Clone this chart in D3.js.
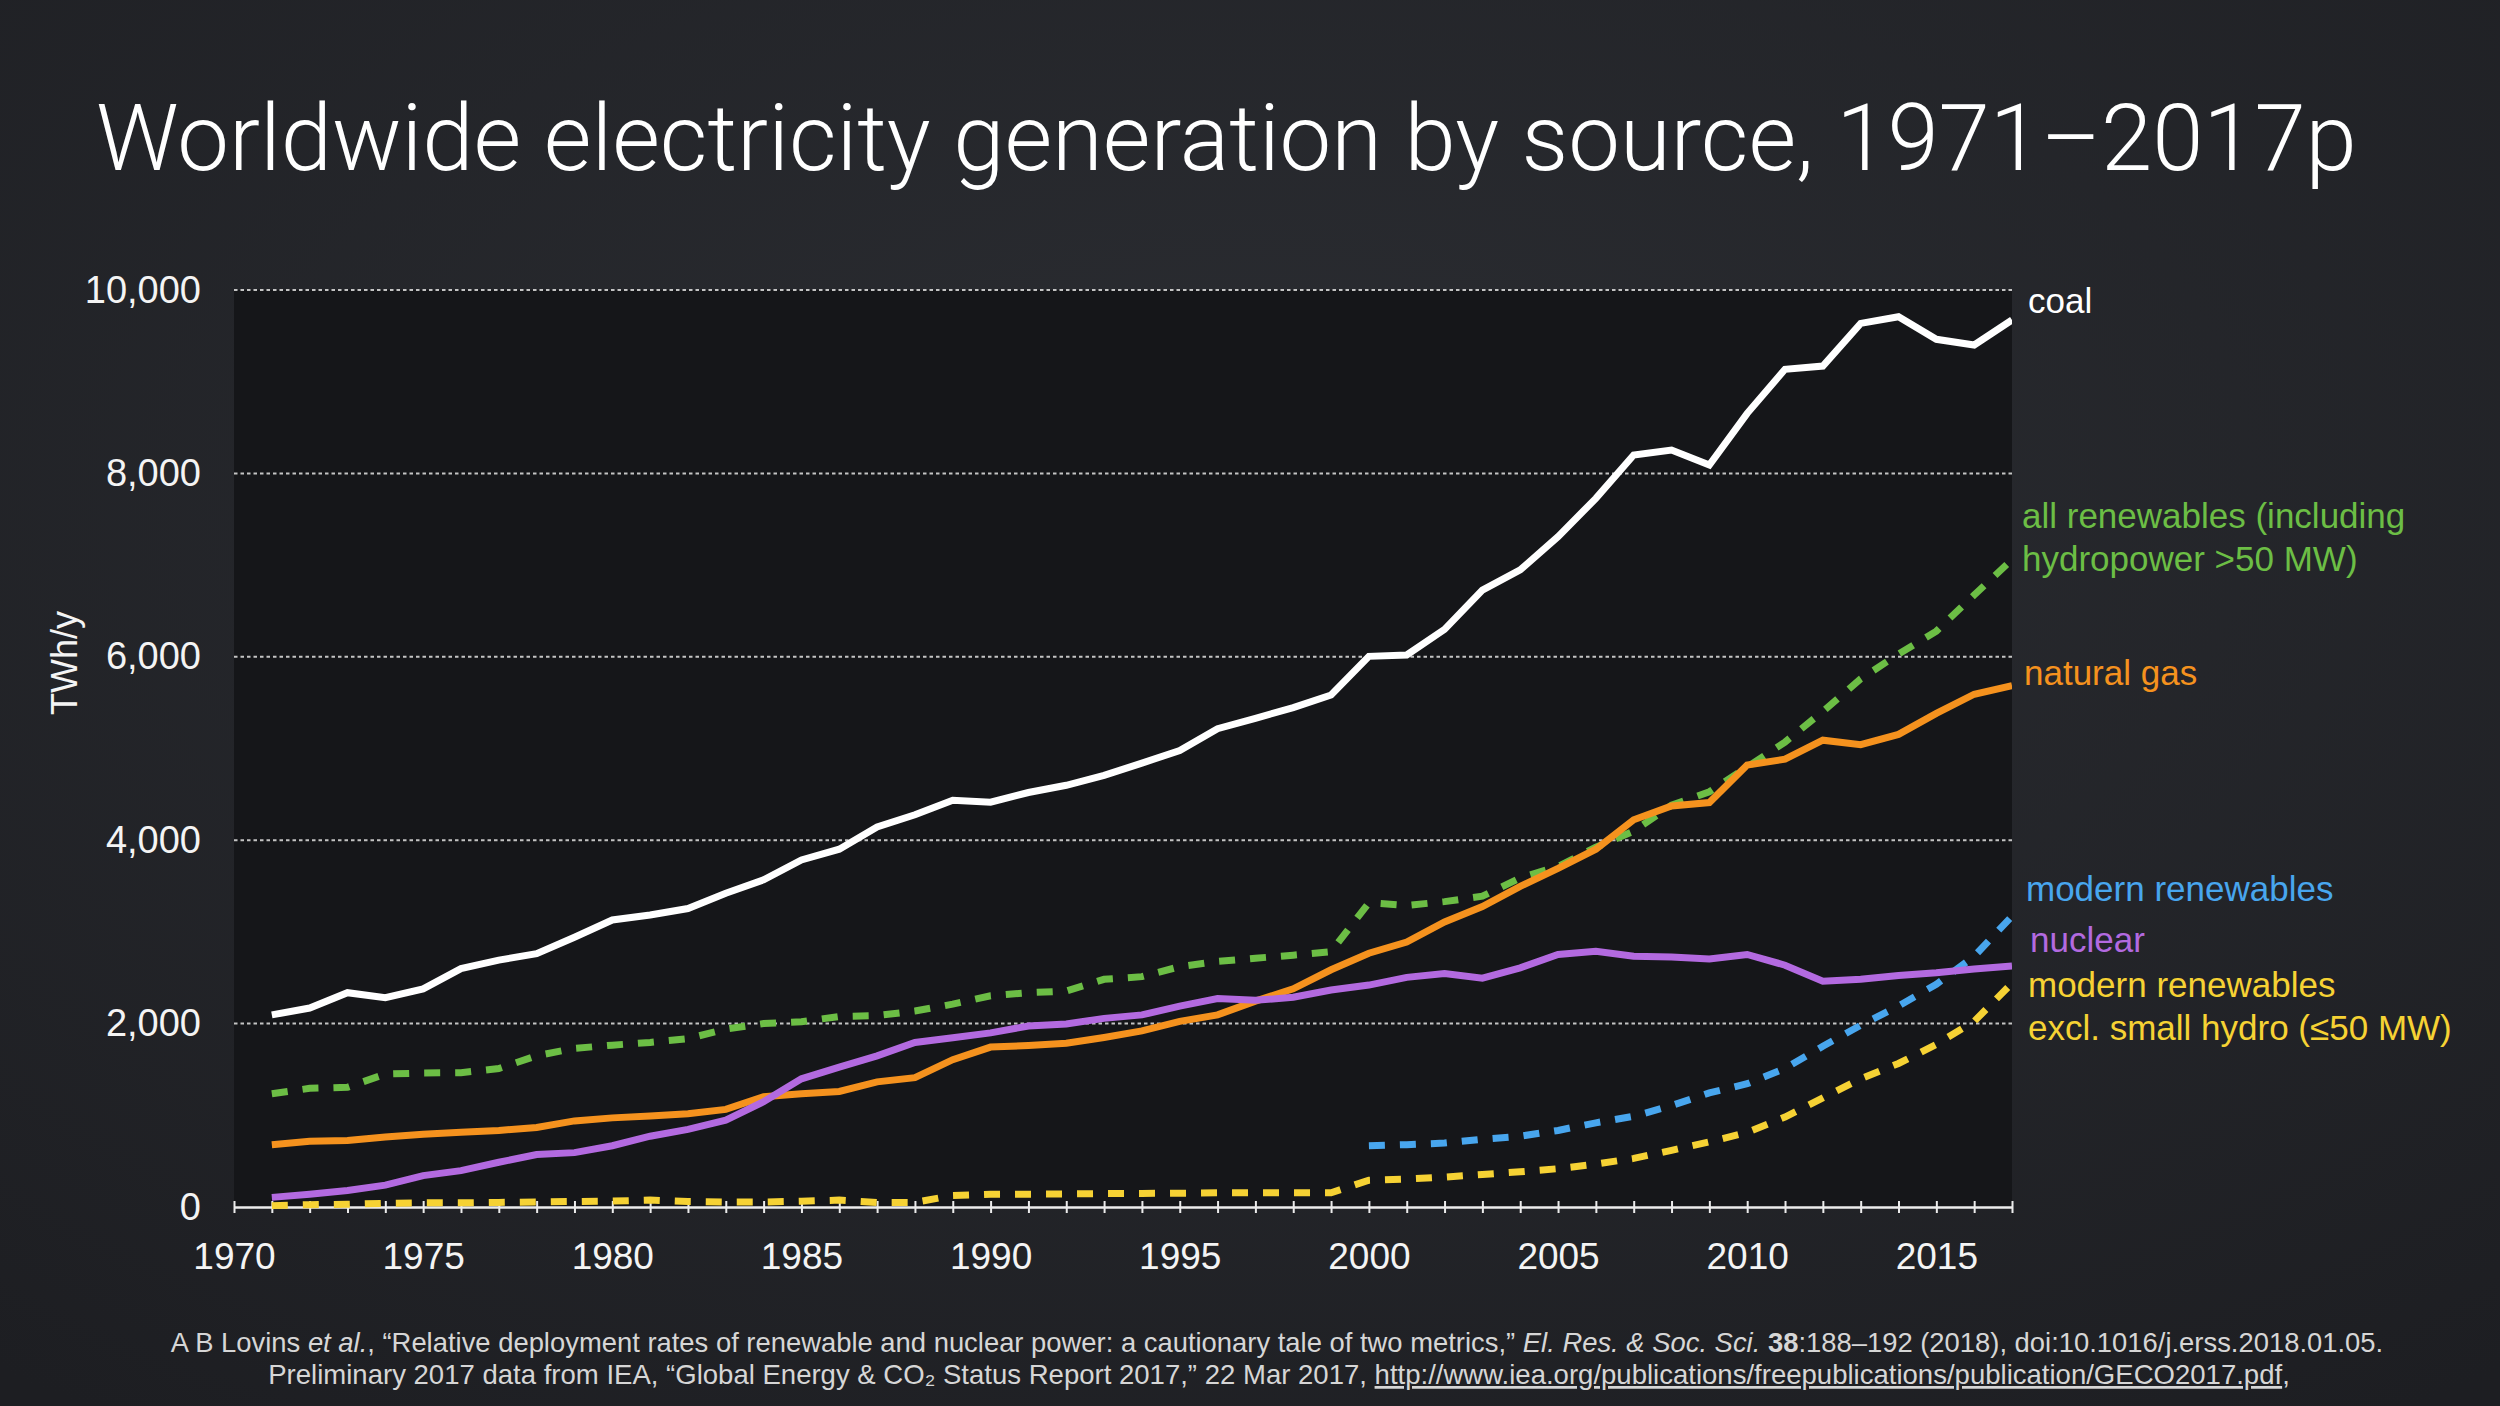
<!DOCTYPE html>
<html>
<head>
<meta charset="utf-8">
<script src="https://cdn.jsdelivr.net/npm/d3@7"></script>
<style>
  html, body { margin: 0; padding: 0; background: #232529; }
  svg { display: block; }
  text { font-family: "Liberation Sans", Arial, Helvetica, sans-serif; }
</style>
</head>
<body>
<div id="chart"></div>
<script>
// Data (TWh/y)
var years = [1971, 1972, 1973, 1974, 1975, 1976, 1977, 1978, 1979, 1980,
    1981, 1982, 1983, 1984, 1985, 1986, 1987, 1988, 1989, 1990,
    1991, 1992, 1993, 1994, 1995, 1996, 1997, 1998, 1999, 2000,
    2001, 2002, 2003, 2004, 2005, 2006, 2007, 2008, 2009, 2010,
    2011, 2012, 2013, 2014, 2015, 2016, 2017];

var coal = [2095, 2170, 2337, 2283, 2379, 2600, 2692, 2763, 2942, 3130,
    3184, 3255, 3422, 3568, 3785, 3902, 4144, 4277, 4436, 4415,
    4520, 4599, 4707, 4841, 4978, 5216, 5329, 5446, 5584, 6005,
    6020, 6299, 6728, 6947, 7310, 7728, 8201, 8255, 8092, 8655,
    9135, 9171, 9636, 9709, 9462, 9400, 9673];

var allRenewables = [1235, 1294, 1306, 1450, 1461, 1465, 1510, 1650, 1730, 1765,
    1795, 1836, 1941, 2000, 2020, 2078, 2087, 2137, 2212, 2304,
    2337, 2354, 2483, 2512, 2621, 2679, 2713, 2746, 2784, 3318,
    3288, 3330, 3389, 3589, 3714, 3923, 4098, 4382, 4528, 4799,
    5070, 5404, 5759, 6030, 6280, 6674, 7060];

var naturalGas = [680, 718, 726, 764, 793, 814, 835, 868, 939, 972,
    993, 1018, 1064, 1202, 1235, 1260, 1365, 1411, 1607, 1744,
    1761, 1786, 1849, 1920, 2024, 2095, 2245, 2379, 2587, 2767,
    2890, 3109, 3276, 3497, 3693, 3902, 4223, 4373, 4411, 4820,
    4883, 5091, 5041, 5154, 5383, 5592, 5684];

var nuclear = [105, 138, 180, 238, 342, 397, 488, 572, 593, 668,
    772, 847, 947, 1148, 1398, 1525, 1648, 1794, 1845, 1899,
    1974, 1995, 2057, 2095, 2191, 2274, 2254, 2287, 2366, 2420,
    2504, 2546, 2496, 2608, 2754, 2788, 2734, 2725, 2704, 2754,
    2637, 2462, 2483, 2525, 2554, 2596, 2629];

var modernExclSmallHydro = [15, 25, 30, 40, 45, 45, 50, 55, 60, 65,
    75, 60, 55, 55, 63, 75, 50, 50, 125, 138,
    140, 142, 146, 148, 150, 155, 155, 155, 155, 292,
    305, 326, 355, 384, 418, 468, 530, 618, 710, 814,
    981, 1190, 1398, 1565, 1774, 2024, 2441];

var modernYears = [2000, 2001, 2002, 2003, 2004, 2005, 2006, 2007, 2008,
    2009, 2010, 2011, 2012, 2013, 2014, 2015, 2016, 2017];
var modernRenewables = [668, 680, 697, 739, 772, 835, 918, 989, 1106,
    1244, 1344, 1511, 1753, 1982, 2191, 2429, 2734, 3172];

var yTicks = [0, 2000, 4000, 6000, 8000, 10000];
var xTickLabels = [1970, 1975, 1980, 1985, 1990, 1995, 2000, 2005, 2010, 2015];
var xDomain = [1970, 2017];

var titleText = "Worldwide electricity generation by source, 1971\u20132017p";
var yLabelText = "TWh/y";

// SVG
var svgWidth = 2500;
var svgHeight = 1406;

var margin = {
    top: 290,
    right: 488,
    bottom: 199,
    left: 234
};

var width = svgWidth - margin.left - margin.right;
var height = svgHeight - margin.top - margin.bottom;

var svg = d3
    .select("#chart")
    .append("svg")
    .attr("width", svgWidth)
    .attr("height", svgHeight);

// Background
var defs = svg.append("defs");
var grad = defs.append("radialGradient")
    .attr("id", "bg")
    .attr("cx", "50%")
    .attr("cy", "35%")
    .attr("r", "80%");
grad.append("stop").attr("offset", "0%").attr("stop-color", "#2b2d32");
grad.append("stop").attr("offset", "100%").attr("stop-color", "#1d1e22");

defs.append("clipPath")
    .attr("id", "plotClip")
    .append("rect")
    .attr("x", 0)
    .attr("y", -60)
    .attr("width", width)
    .attr("height", height + 120);

svg.append("rect")
    .attr("width", svgWidth)
    .attr("height", svgHeight)
    .attr("fill", "url(#bg)");

// Fit a text element to a target width by scaling its font size
function fitWidth(sel, target) {
    var w = sel.node().getComputedTextLength();
    var fs = parseFloat(sel.attr("font-size"));
    sel.attr("font-size", (fs * target / w).toFixed(2));
}

// Title
var title = svg.append("text")
    .attr("x", 96)
    .attr("y", 170)
    .attr("fill", "#ffffff")
    .attr("font-size", 92)
    .attr("font-weight", 300)
    .style("font-family", "Roboto, 'Open Sans', 'Liberation Sans', sans-serif")
    .text(titleText);
fitWidth(title, 2261);

var chartGroup = svg.append("g")
    .attr("transform", `translate(${margin.left}, ${margin.top})`);

// Plot background
chartGroup.append("rect")
    .attr("width", width)
    .attr("height", height)
    .attr("fill", "#151619");

// Scales
var xLinearScale = d3.scaleLinear()
    .domain(xDomain)
    .range([0, width]);

var yLinearScale = d3.scaleLinear()
    .domain([0, 10000])
    .range([height, 0]);

// Gridlines
chartGroup.append("g")
    .selectAll("line")
    .data(yTicks.filter(d => d > 0))
    .enter()
    .append("line")
    .attr("x1", 0)
    .attr("x2", width)
    .attr("y1", d => yLinearScale(d))
    .attr("y2", d => yLinearScale(d))
    .attr("stroke", "#c4c4c4")
    .attr("stroke-width", 2)
    .attr("stroke-dasharray", "3.5,3");

// X-Axis
var bottomAxis = d3.axisBottom(xLinearScale)
    .tickValues(d3.range(xDomain[0], xDomain[1] + 1))
    .tickSizeInner(6)
    .tickSizeOuter(0)
    .tickFormat(d => xTickLabels.indexOf(d) >= 0 ? d : "");

var axisX = chartGroup.append("g")
    .attr("transform", `translate(0, ${height})`)
    .call(bottomAxis);

axisX.select(".domain")
    .attr("stroke", "#ececec")
    .attr("stroke-width", 2.5);
axisX.selectAll(".tick line")
    .attr("y1", -6)
    .attr("y2", 6)
    .attr("stroke", "#ececec")
    .attr("stroke-width", 2);
axisX.selectAll(".tick text")
    .attr("y", 62)
    .attr("dy", null)
    .attr("fill", "#f4f4f4")
    .attr("font-size", 37)
    .style("font-family", "'Liberation Sans', Arial, sans-serif");

// Y-Axis
var leftAxis = d3.axisLeft(yLinearScale)
    .tickValues(yTicks)
    .tickSize(0)
    .tickPadding(33)
    .tickFormat(d3.format(","));

var axisY = chartGroup.append("g")
    .call(leftAxis);

axisY.select(".domain").remove();
axisY.selectAll(".tick text")
    .attr("fill", "#f4f4f4")
    .attr("font-size", 38)
    .style("font-family", "'Liberation Sans', Arial, sans-serif");

// Y label
svg.append("text")
    .attr("transform", "translate(77, 663) rotate(-90)")
    .attr("text-anchor", "middle")
    .attr("fill", "#f4f4f4")
    .attr("font-size", 36)
    .text(yLabelText);

// Series
function toPoints(xs, vs) {
    return xs.map((x, i) => ({ year: x, value: vs[i] }));
}

var series = [
    { points: toPoints(years, allRenewables), color: "#6cbe45", dash: "16,15" },
    { points: toPoints(modernYears, modernRenewables), color: "#48a6ee", dash: "16,15" },
    { points: toPoints(years, modernExclSmallHydro), color: "#f6d234", dash: "16,15" },
    { points: toPoints(years, naturalGas), color: "#f5921e", dash: null },
    { points: toPoints(years, nuclear), color: "#b36ae0", dash: null },
    { points: toPoints(years, coal), color: "#ffffff", dash: null }
];

var line = d3.line()
    .x(d => xLinearScale(d.year))
    .y(d => yLinearScale(d.value));

var linesGroup = chartGroup.append("g")
    .attr("clip-path", "url(#plotClip)");

linesGroup.selectAll("path")
    .data(series)
    .enter()
    .append("path")
    .attr("d", d => line(d.points))
    .attr("fill", "none")
    .attr("stroke", d => d.color)
    .attr("stroke-width", 7)
    .attr("stroke-linejoin", "miter")
    .attr("stroke-dasharray", d => d.dash);

// Line labels
var labels = [
    { lines: ["coal"], color: "#ffffff", dx: 16, y: 23 },
    { lines: ["all renewables (including", "hydropower >50 MW)"], color: "#6cbe45", dx: 10, y: 238 },
    { lines: ["natural gas"], color: "#f5921e", dx: 12, y: 395 },
    { lines: ["modern renewables"], color: "#48a6ee", dx: 14, y: 611 },
    { lines: ["nuclear"], color: "#b36ae0", dx: 18, y: 662 },
    { lines: ["modern renewables", "excl. small hydro (\u226450 MW)"], color: "#f6d234", dx: 16, y: 707 }
];

labels.forEach(function (lab) {
    var t = chartGroup.append("text")
        .attr("x", width + lab.dx)
        .attr("y", lab.y)
        .attr("fill", lab.color)
        .attr("font-size", 35);
    lab.lines.forEach(function (s, i) {
        t.append("tspan")
            .attr("x", width + lab.dx)
            .attr("dy", i === 0 ? 0 : 43)
            .text(s);
    });
});

// Footer
var foot1 = svg.append("text")
    .attr("x", 1277)
    .attr("y", 1352)
    .attr("text-anchor", "middle")
    .attr("fill", "#d6d6d6")
    .attr("font-size", 23);
foot1.append("tspan").text("A B Lovins ");
foot1.append("tspan").attr("font-style", "italic").text("et al.");
foot1.append("tspan").text(", \u201cRelative deployment rates of renewable and nuclear power: a cautionary tale of two metrics,\u201d ");
foot1.append("tspan").attr("font-style", "italic").text("El. Res. & Soc. Sci.");
foot1.append("tspan").text(" ");
foot1.append("tspan").attr("font-weight", "bold").text("38");
foot1.append("tspan").text(":188\u2013192 (2018), doi:10.1016/j.erss.2018.01.05.");
fitWidth(foot1, 2213);

var foot2 = svg.append("text")
    .attr("x", 1279)
    .attr("y", 1384)
    .attr("text-anchor", "middle")
    .attr("fill", "#d6d6d6")
    .attr("font-size", 23);
foot2.append("tspan").text("Preliminary 2017 data from IEA, \u201cGlobal Energy & CO\u2082 Status Report 2017,\u201d 22 Mar 2017, ");
foot2.append("tspan").attr("text-decoration", "underline").text("http://www.iea.org/publications/freepublications/publication/GECO2017.pdf");
foot2.append("tspan").text(",");
fitWidth(foot2, 2022);
</script>
</body>
</html>
